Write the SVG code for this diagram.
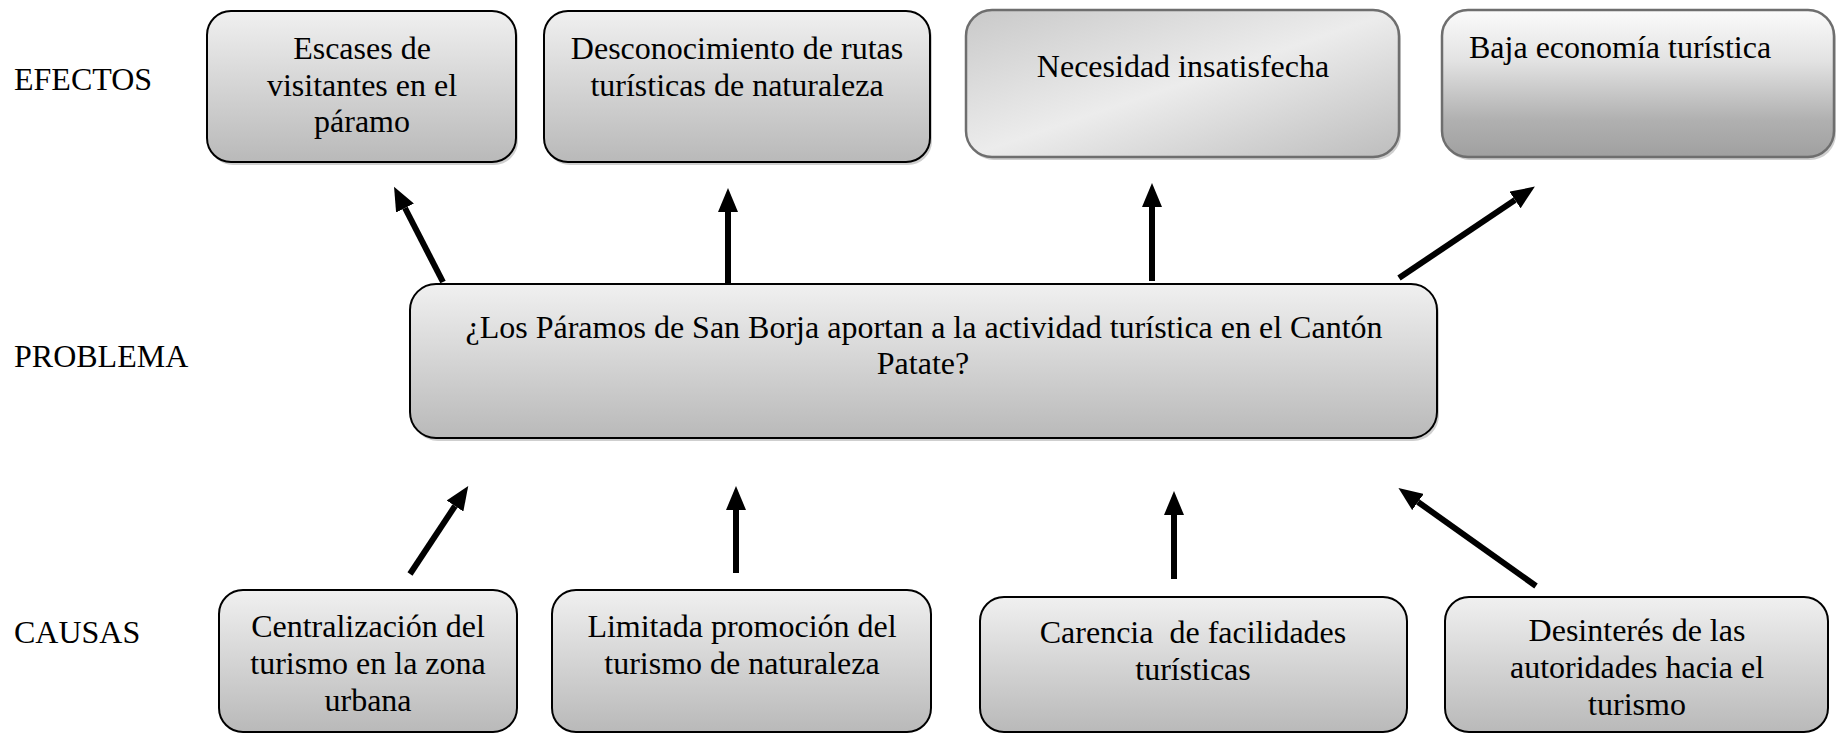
<svg xmlns="http://www.w3.org/2000/svg" width="1836" height="733" viewBox="0 0 1836 733">
<defs>
<linearGradient id="gGray" x1="0" y1="0" x2="0" y2="1">
<stop offset="0" stop-color="#f0f0f0"/>
<stop offset="1" stop-color="#b9b9b9"/>
</linearGradient>
<linearGradient id="gSilver" x1="0" y1="0" x2="1" y2="1">
<stop offset="0" stop-color="#c9c9c9"/>
<stop offset="0.5" stop-color="#ececec"/>
<stop offset="1" stop-color="#bdbdbd"/>
</linearGradient>
<linearGradient id="gFade" x1="0" y1="0" x2="0" y2="1">
<stop offset="0" stop-color="#fbfbfb"/>
<stop offset="0.35" stop-color="#e2e2e2"/>
<stop offset="0.75" stop-color="#b0b0b0"/>
<stop offset="1" stop-color="#a0a0a0"/>
</linearGradient>
<marker id="ah" markerUnits="userSpaceOnUse" markerWidth="24" markerHeight="20" refX="0" refY="10" orient="auto">
<path d="M0,0 L24,10 L0,20 z" fill="#000"/>
</marker>
</defs>
<style>
text{font-family:"Liberation Serif","Times New Roman",serif;font-size:32px;fill:#000}
.c{text-anchor:middle}
.shadow{fill:#cfcfcf}
.box{fill:url(#gGray);stroke:#000;stroke-width:2}
.box3{fill:url(#gSilver);stroke:#6e6e6e;stroke-width:2.5}
.box4{fill:url(#gFade);stroke:#6e6e6e;stroke-width:2.5}
.arr{stroke:#000;stroke-width:6;fill:none;marker-end:url(#ah)}
</style>

<g id="labels">
<text x="14" y="90">EFECTOS</text>
<text x="14" y="367">PROBLEMA</text>
<text x="14" y="643">CAUSAS</text>
</g>

<g id="e1">
<rect class="shadow" x="209" y="14" width="309" height="151" rx="24"/>
<rect class="box" x="207" y="11" width="309" height="151" rx="24"/>
<text class="c" x="362" y="59">Escases de</text>
<text class="c" x="362" y="96">visitantes en el</text>
<text class="c" x="362" y="132">páramo</text>
</g>

<g id="e2">
<rect class="shadow" x="546" y="14" width="386" height="151" rx="24"/>
<rect class="box" x="544" y="11" width="386" height="151" rx="24"/>
<text class="c" x="737" y="59">Desconocimiento de rutas</text>
<text class="c" x="737" y="96">turísticas de naturaleza</text>
</g>

<g id="e3">
<rect class="shadow" x="968" y="13" width="433" height="147" rx="26"/>
<rect class="box3" x="966" y="10" width="433" height="147" rx="26"/>
<text class="c" x="1183" y="77">Necesidad insatisfecha</text>
</g>

<g id="e4">
<rect class="shadow" x="1444" y="13" width="392" height="147" rx="26"/>
<rect class="box4" x="1442" y="10" width="392" height="147" rx="26"/>
<text x="1469" y="58">Baja economía turística</text>
</g>

<g id="problem">
<rect class="shadow" x="412" y="287" width="1027" height="154" rx="26"/>
<rect class="box" x="410" y="284" width="1027" height="154" rx="26"/>
<text class="c" x="924" y="338">¿Los Páramos de San Borja aportan a la actividad turística en el Cantón</text>
<text class="c" x="923" y="374">Patate?</text>
</g>

<g id="c1">
<rect class="box" x="219" y="590" width="298" height="142" rx="24"/>
<text class="c" x="368" y="637">Centralización del</text>
<text class="c" x="368" y="674">turismo en la zona</text>
<text class="c" x="368" y="711">urbana</text>
</g>

<g id="c2">
<rect class="box" x="552" y="590" width="379" height="142" rx="24"/>
<text class="c" x="742" y="637">Limitada promoción del</text>
<text class="c" x="742" y="674">turismo de naturaleza</text>
</g>

<g id="c3">
<rect class="box" x="980" y="597" width="427" height="135" rx="24"/>
<text class="c" x="1193" y="643" xml:space="preserve">Carencia  de facilidades</text>
<text class="c" x="1193" y="680">turísticas</text>
</g>

<g id="c4">
<rect class="box" x="1445" y="597" width="383" height="135" rx="24"/>
<text class="c" x="1637" y="641">Desinterés de las</text>
<text class="c" x="1637" y="678">autoridades hacia el</text>
<text class="c" x="1637" y="715">turismo</text>
</g>

<g id="connectors">
<line class="arr" x1="443" y1="282" x2="405" y2="208"/>
<line class="arr" x1="728" y1="283" x2="728" y2="212"/>
<line class="arr" x1="1152" y1="281" x2="1152" y2="207"/>
<line class="arr" x1="1399" y1="278" x2="1515" y2="200"/>
<line class="arr" x1="410" y1="574" x2="455" y2="506"/>
<line class="arr" x1="736" y1="573" x2="736" y2="510"/>
<line class="arr" x1="1174" y1="579" x2="1174" y2="515"/>
<line class="arr" x1="1536" y1="586" x2="1418" y2="502"/>
</g>
</svg>
